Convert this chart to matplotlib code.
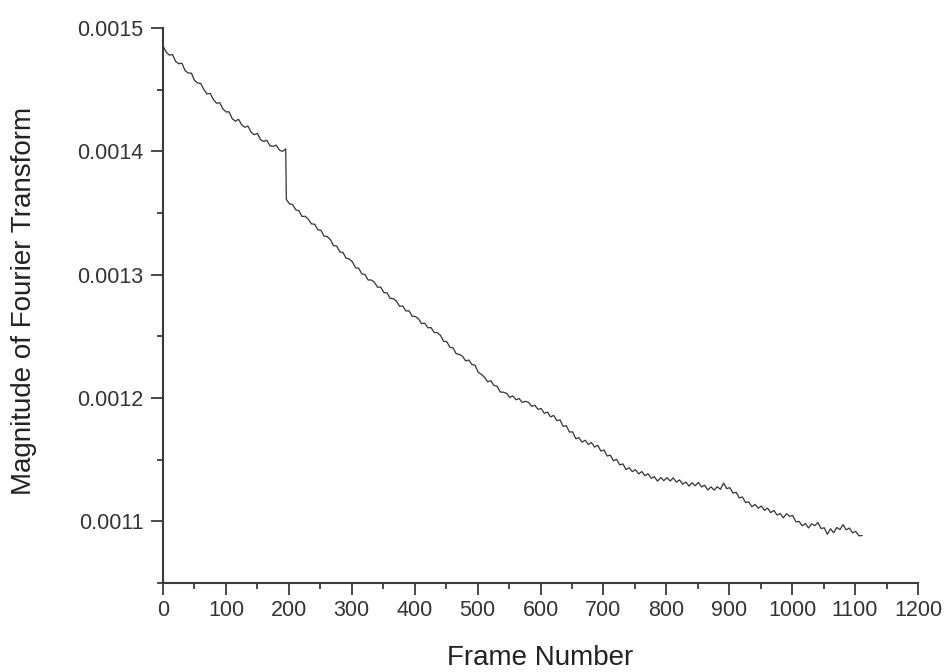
import numpy as np
import matplotlib
matplotlib.use("Agg")
import matplotlib.pyplot as plt
from matplotlib.ticker import MultipleLocator, FormatStrFormatter

plt.rcParams['font.family'] = ['Liberation Sans', 'DejaVu Sans']

# Magnitude of the Fourier transform per frame, in units of 1e-6.
# Segment before the step change (frames 0..195, every 5 frames)
magnitude_a_e6 = [
    1485.5, 1480.5, 1478.0, 1478.5, 1473.0, 1471.0, 1471.5, 1465.5, 1463.5, 1463.5,
    1457.5, 1455.5, 1455.0, 1450.0, 1446.5, 1447.0, 1442.0, 1439.0, 1439.5, 1434.5,
    1432.0, 1432.0, 1426.5, 1424.5, 1426.0, 1421.5, 1419.5, 1420.5, 1415.5, 1413.5,
    1414.5, 1409.5, 1408.0, 1409.0, 1404.5, 1404.0, 1405.0, 1401.0, 1400.0, 1402.0,
]
frame_a_start, frame_step = 0, 5

# Segment after the step change (frames 196..1111, every 5 frames)
magnitude_b_e6 = [
    1361.0, 1357.5, 1356.8, 1352.6, 1351.8, 1347.2, 1347.4, 1344.9, 1341.2, 1340.9,
    1336.5, 1336.0, 1331.3, 1330.9, 1328.5, 1323.6, 1323.2, 1318.5, 1318.0, 1313.3,
    1312.8, 1310.4, 1305.6, 1305.2, 1300.7, 1300.1, 1295.7, 1295.7, 1293.9, 1289.8,
    1290.0, 1285.5, 1285.3, 1280.8, 1280.6, 1278.6, 1274.4, 1274.6, 1270.6, 1270.7,
    1266.3, 1266.1, 1264.3, 1260.3, 1260.7, 1256.9, 1257.1, 1253.1, 1253.1, 1250.8,
    1246.0, 1245.7, 1241.2, 1240.6, 1235.9, 1235.4, 1233.9, 1230.1, 1230.8, 1227.2,
    1226.5, 1220.8, 1219.2, 1216.8, 1213.2, 1214.0, 1210.2, 1209.6, 1204.9, 1204.7,
    1203.8, 1200.5, 1201.7, 1198.6, 1199.6, 1196.4, 1197.3, 1196.5, 1193.2, 1194.1,
    1190.8, 1191.5, 1187.6, 1188.6, 1184.7, 1185.9, 1181.6, 1182.3, 1177.0, 1177.6,
    1172.4, 1172.6, 1167.0, 1167.9, 1164.2, 1165.8, 1162.4, 1163.9, 1160.2, 1161.7,
    1157.0, 1157.9, 1153.0, 1153.6, 1149.1, 1150.3, 1145.8, 1146.6, 1142.0, 1143.5,
    1140.3, 1141.9, 1138.5, 1140.4, 1137.0, 1138.6, 1134.9, 1136.2, 1132.6, 1135.5,
    1133.0, 1135.4, 1132.7, 1135.3, 1131.8, 1133.6, 1130.1, 1131.9, 1128.6, 1131.3,
    1128.9, 1131.5, 1127.9, 1129.3, 1125.4, 1128.0, 1125.3, 1128.1, 1126.0, 1131.0,
    1126.6, 1127.3, 1122.8, 1123.6, 1119.0, 1119.8, 1115.2, 1115.8, 1111.8, 1113.8,
    1110.6, 1112.4, 1108.9, 1110.7, 1107.1, 1108.9, 1105.1, 1106.4, 1102.8, 1106.2,
    1104.2, 1104.7, 1099.6, 1100.0, 1096.4, 1098.2, 1094.7, 1098.0, 1096.5, 1099.0,
    1094.2, 1094.8, 1089.5, 1094.0, 1090.8, 1095.0, 1093.3, 1097.3, 1093.1, 1094.6,
    1090.7, 1091.9, 1088.3, 1088.5,
]
frame_b_start = 196

frames = np.concatenate([
    frame_a_start + frame_step * np.arange(len(magnitude_a_e6)),
    frame_b_start + frame_step * np.arange(len(magnitude_b_e6)),
])
magnitude = np.array(magnitude_a_e6 + magnitude_b_e6) * 1e-6

fig = plt.figure(figsize=(9.49, 6.72), dpi=100)
ax = fig.add_axes([0.1718, 0.1324, 0.7955, 0.8259])

ax.plot(frames, magnitude, color='#333333', linewidth=0.9)

ax.set_xlim(0, 1200)
ax.set_ylim(0.00105, 0.0015)
ax.xaxis.set_major_locator(MultipleLocator(100))
ax.xaxis.set_minor_locator(MultipleLocator(50))
ax.yaxis.set_major_locator(MultipleLocator(0.0001))
ax.yaxis.set_minor_locator(MultipleLocator(0.00005))
ax.yaxis.set_major_formatter(FormatStrFormatter('%.4f'))

for side in ('top', 'right'):
    ax.spines[side].set_visible(False)
for side in ('left', 'bottom'):
    ax.spines[side].set_color('#3a3a3a')
    ax.spines[side].set_linewidth(1.5)

ax.tick_params(which='major', direction='out', length=8.5, width=1.3,
               color='#3a3a3a', labelsize=15.5, labelcolor='#333333')
ax.tick_params(which='minor', direction='out', length=4, width=1.3,
               color='#3a3a3a')
ax.tick_params(axis='y', which='major', pad=5.5)
ax.tick_params(axis='x', which='major', pad=4)

ax.set_xlabel('Frame Number', fontsize=20, color='#222222')
ax.set_ylabel('Magnitude of Fourier Transform', fontsize=20, color='#222222')
ax.xaxis.set_label_coords(0.4993, -0.112)
ax.yaxis.set_label_coords(-0.167, 0.508)

fig.savefig('out.png', dpi=100, facecolor='white')
